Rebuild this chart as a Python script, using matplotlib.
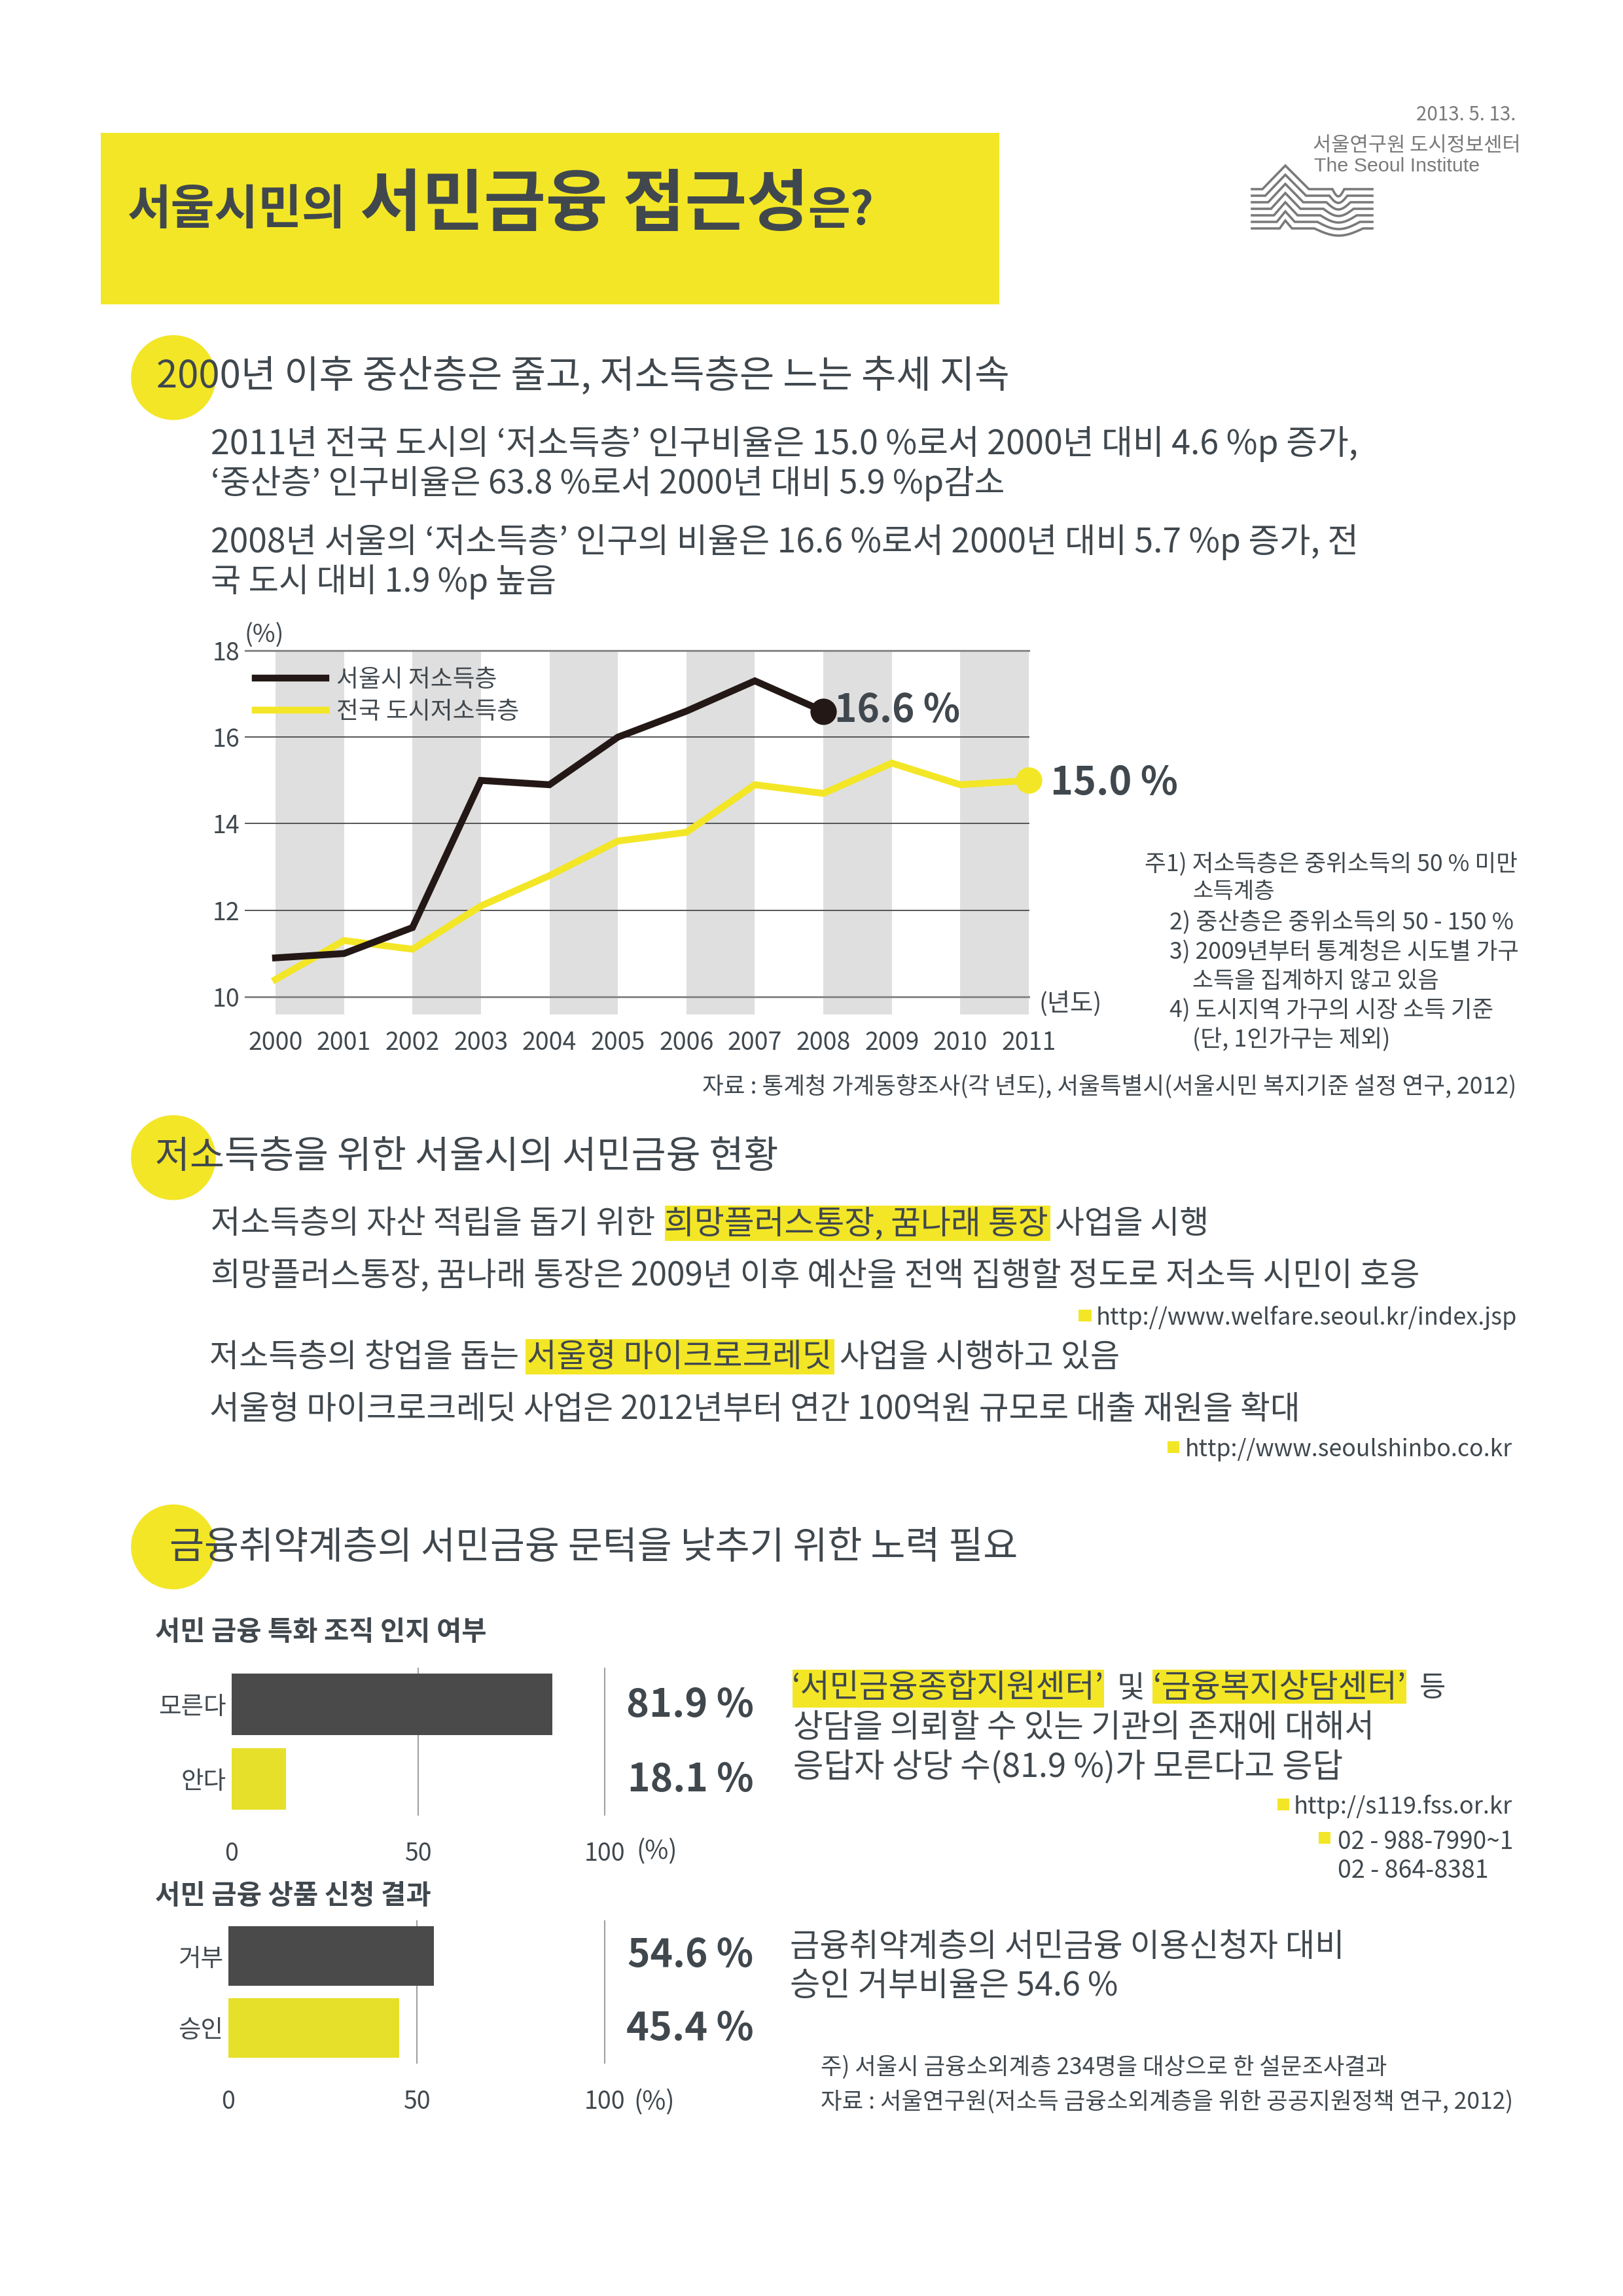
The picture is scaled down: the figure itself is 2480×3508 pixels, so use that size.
import numpy as np
import matplotlib
matplotlib.use('Agg')
import matplotlib.pyplot as plt
from matplotlib.patches import Rectangle, Circle

plt.rcParams['font.family'] = ['Noto Sans CJK KR', 'DejaVu Sans']

# данные
years = [2000, 2001, 2002, 2003, 2004, 2005, 2006, 2007, 2008, 2009, 2010, 2011]
seoul = [10.9, 11.0, 11.6, 15.0, 14.9, 16.0, 16.6, 17.3, 16.6]
national = [10.4, 11.3, 11.1, 12.1, 12.8, 13.6, 13.8, 14.9, 14.7, 15.4, 14.9, 15.0]
y_ticks = [10, 12, 14, 16, 18]
band_starts = [2000, 2002, 2004, 2006, 2008, 2010]

aware_labels = ['모른다', '안다']
aware_bars = [85.9, 14.6]   # длина столбцов как нарисовано в оригинале
aware_text = ['81.9 %', '18.1 %']
result_labels = ['거부', '승인']
result_bars = [54.6, 45.4]
result_text = ['54.6 %', '45.4 %']
bar_ticks = [0, 50, 100]

YELLOW = '#f3e626'
BAR_YELLOW = '#e6e02b'
BAR_DARK = '#4a4a4a'
TEXT = '#40484e'
GREY = '#7a7a7a'
W, H = 2480, 3508
K = 2.236

fig = plt.figure(figsize=(W / 100, H / 100), dpi=100)
page = fig.add_axes([0, 0, 1, 1])
page.set_xlim(0, W / K)
page.set_ylim(H / K, 0)
page.axis('off')
page.set_zorder(10)
renderer = fig.canvas.get_renderer()


# текст, подогнанный по ширине под отрезок x0..x1
def put(s, x0, x1, y, weight='normal', color=TEXT, zorder=5, family=None):
    t = page.text(x0, y + 2.5, s, fontsize=20, fontweight=weight, color=color,
                  ha='left', va='center', zorder=zorder)
    if family:
        t.set_family(family)
    w = t.get_window_extent(renderer).width
    t.set_fontsize(20 * (x1 - x0) * K / w)
    return t


def rect(x0, x1, y0, y1, color, zorder=1):
    page.add_patch(Rectangle((x0, y0), x1 - x0, y1 - y0, color=color, lw=0, zorder=zorder))


def axes_px(x0, x1, y0, y1):
    return fig.add_axes([x0 / W, 1 - y1 / H, (x1 - x0) / W, (y1 - y0) / H], facecolor='none')


# шапка
rect(69, 683, 91, 208, YELLOW)
put('서울시민의', 87, 236, 141, 'bold')
put('서민금융 접근성', 246, 552, 138, 'bold')
put('은?', 552, 597, 142, 'bold')

put('2013. 5. 13.', 968, 1036, 76, color=GREY)
put('서울연구원 도시정보센터', 897, 1039, 97, color=GREY)
put('The Seoul Institute', 898, 1011, 111, color=GREY, family='Liberation Sans')

# логотип
for i in range(7):
    base = 289 + 10 * i
    peak = 253 + 14 * i
    xl = 2036 - 4.6 * i
    xr = 2054 + 4.8 * i
    arc_x = np.linspace(xl, xr, 25)
    arc_y = base + 11 * np.sin(np.pi * (arc_x - xl) / (xr - xl))
    px = np.r_[1913, 1929 + 4.4 * i, 1964, 2000 - 4.3 * i, arc_x, 2097]
    py = np.r_[base, base, peak, base, arc_y, base]
    page.plot(px / K, py / K, color=GREY, lw=2.6, solid_joinstyle='miter', zorder=3)

# заголовки разделов
for cy in [258, 791, 1057]:
    page.add_patch(Circle((118.5, cy), 29, color=YELLOW, lw=0, zorder=1))

put('2000년 이후 중산층은 줄고, 저소득층은 느는 추세 지속', 107, 690, 255)
put('2011년 전국 도시의 ‘저소득층’ 인구비율은 15.0 %로서 2000년 대비 4.6 %p 증가,', 144, 928, 301)
put('‘중산층’ 인구비율은 63.8 %로서 2000년 대비 5.9 %p감소', 144, 686, 328)
put('2008년 서울의 ‘저소득층’ 인구의 비율은 16.6 %로서 2000년 대비 5.7 %p 증가, 전', 144, 928, 368)
put('국 도시 대비 1.9 %p 높음', 144, 380, 395)

# линейный график
line_ax = axes_px(375, 1572, 994, 1550)
line_ax.set_xlim(2000 - 46 / 104.6, 2011)
line_ax.set_ylim(10 - 27 / 66.1, 18)
for b in band_starts:
    line_ax.axvspan(b, b + 1, color='#dfdfdf', lw=0, zorder=1)
for v in y_ticks:
    line_ax.axhline(v, color='#8a8a8a' if v in (10, 18) else '#555555',
                    lw=2.2 if v in (10, 18) else 1.4, zorder=2, clip_on=False)
line_ax.plot(years[:len(seoul)], seoul, color='#231815', lw=7.5, zorder=4,
             solid_joinstyle='miter', label='서울시 저소득층')
line_ax.plot(years, national, color=YELLOW, lw=7.5, zorder=3,
             solid_joinstyle='miter', label='전국 도시저소득층')
line_ax.plot(years[len(seoul) - 1], seoul[-1], 'o', color='#231815', ms=29, mew=0, zorder=5)
line_ax.plot(years[-1], national[-1], 'o', color=YELLOW, ms=29, mew=0, zorder=5, clip_on=False)
for s in line_ax.spines.values():
    s.set_visible(False)
line_ax.set_xticks(years)
line_ax.set_yticks(y_ticks)
line_ax.tick_params(length=0, labelsize=27, labelcolor=TEXT)
line_ax.tick_params(axis='x', pad=17)
line_ax.tick_params(axis='y', pad=6)
leg = line_ax.legend(loc='upper left', bbox_to_anchor=(390 / W, 1 - 1019 / H), bbox_transform=fig.transFigure,
                     frameon=False, fontsize=26.5, handlelength=2.93, handletextpad=0.43,
                     labelspacing=0.28, borderpad=0, borderaxespad=0, labelcolor=TEXT)
leg.set_zorder(6)

put('(%)', 167, 194, 432)
put('(년도)', 710, 753, 684)
put('16.6 %', 570, 656, 483, 'bold', zorder=7)
put('15.0 %', 718, 805, 533, 'bold', zorder=7)

put('주1) 저소득층은 중위소득의 50 % 미만', 782, 1037, 588)
put('소득계층', 815, 871, 607)
put('2) 중산층은 중위소득의 50 - 150 %', 799, 1034, 628)
put('3) 2009년부터 통계청은 시도별 가구', 799, 1038, 648)
put('소득을 집계하지 않고 있음', 815, 983, 668)
put('4) 도시지역 가구의 시장 소득 기준', 799, 1020, 688)
put('(단, 1인가구는 제외)', 815, 950, 708)
put('자료 : 통계청 가계동향조사(각 년도), 서울특별시(서울시민 복지기준 설정 연구, 2012)', 480, 1036, 740)

# второй раздел
put('저소득층을 위한 서울시의 서민금융 현황', 106, 531, 788)
put('저소득층의 자산 적립을 돕기 위한', 144, 447, 834)
rect(454.5, 718, 823.7, 848, YELLOW)
put('희망플러스통장, 꿈나래 통장', 454, 716, 834)
put('사업을 시행', 721, 826, 834)
put('희망플러스통장, 꿈나래 통장은 2009년 이후 예산을 전액 집행할 정도로 저소득 시민이 호응', 144, 969, 870)
rect(737, 746, 895, 903, YELLOW)
put('http://www.welfare.seoul.kr/index.jsp', 749, 1036, 898)
put('저소득층의 창업을 돕는', 143, 354, 925)
rect(359, 570, 915, 939, YELLOW)
put('서울형 마이크로크레딧', 360, 568, 925)
put('사업을 시행하고 있음', 574, 765, 925)
put('서울형 마이크로크레딧 사업은 2012년부터 연간 100억원 규모로 대출 재원을 확대', 143, 888, 961)
rect(798, 806, 985, 993, YELLOW)
put('http://www.seoulshinbo.co.kr', 810, 1033, 988)

# третий раздел
put('금융취약계층의 서민금융 문턱을 낮추기 위한 노력 필요', 116, 695, 1055)
put('서민 금융 특화 조직 인지 여부', 106, 332, 1113, 'bold')
put('서민 금융 상품 신청 결과', 106, 294, 1293, 'bold')


# горизонтальные столбцы
def draw_bars(x0, x1, y0, y1, labels, values):
    ax = axes_px(x0, x1, y0, y1)
    ax.set_xlim(0, 100)
    ax.set_ylim(1.49, -0.49)
    ax.barh(range(len(values)), values, height=0.83, color=[BAR_DARK, BAR_YELLOW], zorder=3)
    for v in bar_ticks[1:]:
        ax.axvline(v, color='#a0a0a0', lw=1.5, zorder=1, clip_on=False)
    for s in ax.spines.values():
        s.set_visible(False)
    ax.set_xticks(bar_ticks)
    ax.set_yticks(range(len(labels)))
    ax.set_yticklabels(labels)
    ax.tick_params(length=0, labelsize=27, labelcolor=TEXT)
    ax.tick_params(axis='x', pad=29)
    ax.tick_params(axis='y', pad=6)
    return ax


draw_bars(354, 924, 2549, 2773, aware_labels, aware_bars)
draw_bars(349, 924, 2935, 3152, result_labels, result_bars)
put('(%)', 435, 463, 1263)
put('(%)', 433, 461, 1434)

put(aware_text[0], 428, 515, 1163, 'bold')
put(aware_text[1], 429, 515, 1214, 'bold')
put(result_text[0], 429, 515, 1334, 'bold')
put(result_text[1], 428, 515, 1384, 'bold')

rect(541.6, 754.5, 1141, 1167, YELLOW)
put('‘서민금융종합지원센터’', 541, 754, 1151)
put('및', 763, 782, 1151)
rect(787.6, 961, 1141, 1164, YELLOW)
put('‘금융복지상담센터’', 788, 961, 1151)
put('등', 970, 988, 1151)
put('상담을 의뢰할 수 있는 기관의 존재에 대해서', 542, 938, 1178)
put('응답자 상당 수(81.9 %)가 모른다고 응답', 542, 917, 1205)
rect(873, 881, 1229, 1237, YELLOW)
put('http://s119.fss.or.kr', 884, 1033, 1232)
rect(901, 909, 1252, 1260, YELLOW)
put('02 - 988-7990~1', 914, 1034, 1256)
put('02 - 864-8381', 914, 1017, 1276)
put('금융취약계층의 서민금융 이용신청자 대비', 540, 918, 1328)
put('승인 거부비율은 54.6 %', 540, 764, 1355)
put('주) 서울시 금융소외계층 234명을 대상으로 한 설문조사결과', 561, 947, 1410)
put('자료 : 서울연구원(저소득 금융소외계층을 위한 공공지원정책 연구, 2012)', 561, 1033, 1434)

plt.savefig('out.png', dpi=100)
